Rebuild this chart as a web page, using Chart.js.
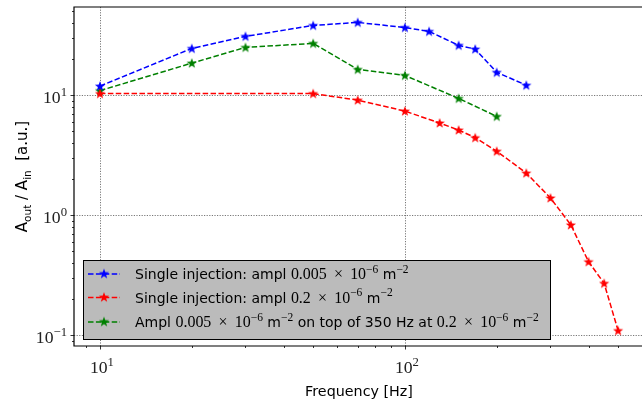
<!DOCTYPE html>
<html>
<head>
<meta charset="utf-8">
<script src="https://cdn.jsdelivr.net/npm/chart.js@4.4.1/dist/chart.umd.min.js"></script>
<style>
  html, body { margin: 0; padding: 0; background: #fff; overflow: hidden; }
  #wrap { width: 642px; height: 404px; overflow: hidden; }
</style>
</head>
<body>
<div id="wrap"><canvas id="respChart" width="650" height="404"></canvas></div>
<script>
// transfer amplitude vs injection frequency
const freqBlue = [10, 20, 30, 50, 70, 100, 120, 150, 170, 200, 250];
const ampBlue = [11.9, 24.5, 30.9, 38.1, 40.4, 36.6, 34.0, 26.0, 24.2, 15.5, 12.1];

const freqRed = [10, 50, 70, 100, 130, 150, 170, 200, 250, 300, 350, 400, 450, 500];
const ampRed = [10.3, 10.3, 9.09, 7.36, 5.86, 5.12, 4.42, 3.41, 2.24, 1.39, 0.829, 0.409, 0.270, 0.109];

const freqGreen = [10, 20, 30, 50, 70, 100, 150, 200];
const ampGreen = [10.9, 18.5, 25.0, 27.0, 16.4, 14.6, 9.39, 6.65];

const xRange = [8.22, 608];
const yRange = [0.0811, 54.3];
const xMajor = [10, 100];
const yMajor = [0.1, 1, 10];
const xTickExp = ['1', '2'];
const yTickExp = ['\u22121', '0', '1'];

const SANS = '"DejaVu Sans", sans-serif';
const SERIF = '"Liberation Serif", serif';
const TIMES = ' \u2009\u00d7\u2009 ';

// legend text, pieces: [text, font, superscript]
const legendLabels = [
    [['Single injection: ampl ', 's'], ['0.005' + TIMES + '10', 'm'], ['\u22126', 'm', 1], [' m', 's'], ['\u22122', 'm', 1]],
    [['Single injection: ampl ', 's'], ['0.2' + TIMES + '10', 'm'], ['\u22126', 'm', 1], [' m', 's'], ['\u22122', 'm', 1]],
    [['Ampl ', 's'], ['0.005' + TIMES + '10', 'm'], ['\u22126', 'm', 1], [' m', 's'], ['\u22122', 'm', 1],
     [' on top of 350 Hz at ', 's'], ['0.2' + TIMES + '10', 'm'], ['\u22126', 'm', 1], [' m', 's'], ['\u22122', 'm', 1]]
];
const colors = ['#0000ff', '#ff0000', '#008000'];

function starMarker(color) {
    const c = document.createElement('canvas');
    c.width = 12; c.height = 12;
    const g = c.getContext('2d');
    g.beginPath();
    for (let i = 0; i < 10; i++) {
        const r = i % 2 === 0 ? 5.4 : 2.2;
        const a = -Math.PI / 2 + i * Math.PI / 5;
        const px = 6 + r * Math.cos(a), py = 6.4 + r * Math.sin(a);
        i === 0 ? g.moveTo(px, py) : g.lineTo(px, py);
    }
    g.closePath();
    g.fillStyle = color;
    g.fill();
    return c;
}
const markers = colors.map(starMarker);

function pts(xs, ys) {
    return xs.map((x, i) => ({ x: x, y: ys[i] }));
}

// math bits are set a little larger than the sans text
function fontFor(kind, size) {
    return (kind === 'm' ? (size * 1.14) + 'px ' + SERIF : size + 'px ' + SANS);
}

// draws mixed sans / math text with superscripts, returns end x
function drawRich(ctx, parts, x, y, size, measureOnly) {
    let cx = x;
    parts.forEach(p => {
        const sup = p[2];
        const sz = sup ? size * 0.72 : size;
        ctx.font = fontFor(p[1], sz);
        if (!measureOnly) ctx.fillText(p[0], cx, sup ? y - size * 0.45 : y);
        cx += ctx.measureText(p[0]).width;
    });
    return cx;
}

const framePlugin = {
    id: 'frame',
    beforeDatasetsDraw(chart) {
        const { ctx, chartArea: a, scales } = chart;
        const xs = scales.x, ys = scales.y;
        ctx.save();
        // dotted grid at decades
        ctx.strokeStyle = '#555';
        ctx.lineWidth = 0.8;
        ctx.setLineDash([1.2, 1.4]);
        xMajor.forEach(v => {
            const px = Math.round(xs.getPixelForValue(v)) + 0.5;
            ctx.beginPath(); ctx.moveTo(px, a.top); ctx.lineTo(px, a.bottom); ctx.stroke();
        });
        yMajor.forEach(v => {
            const py = Math.round(ys.getPixelForValue(v)) + 0.5;
            ctx.beginPath(); ctx.moveTo(a.left, py); ctx.lineTo(a.right, py); ctx.stroke();
        });
        ctx.restore();
    },
    afterDraw(chart) {
        const { ctx, chartArea: a, scales } = chart;
        const xs = scales.x, ys = scales.y;
        ctx.save();
        ctx.setLineDash([]);

        // legend box
        const lx = 83, ly = 260, lw = 467, lh = 79;
        ctx.fillStyle = '#bbbbbb';
        ctx.fillRect(lx, ly, lw, lh);
        ctx.strokeStyle = '#000';
        ctx.lineWidth = 1;
        ctx.strokeRect(lx + 0.5, ly + 0.5, lw, lh);
        const rows = [274, 297.5, 322];
        legendLabels.forEach((parts, i) => {
            const ry = rows[i];
            ctx.strokeStyle = colors[i];
            ctx.lineWidth = 1.5;
            ctx.setLineDash([5.5, 2.4]);
            ctx.beginPath(); ctx.moveTo(88, ry); ctx.lineTo(120, ry); ctx.stroke();
            ctx.setLineDash([]);
            ctx.drawImage(markers[i], 104 - 6, ry - 6.4);
            ctx.fillStyle = '#000';
            ctx.textBaseline = 'alphabetic';
            ctx.textAlign = 'left';
            drawRich(ctx, parts, 135, ry + 5, 14);
        });

        // frame
        ctx.strokeStyle = '#000';
        ctx.lineWidth = 1.2;
        ctx.beginPath();
        ctx.moveTo(a.right, a.top); ctx.lineTo(a.left, a.top);
        ctx.lineTo(a.left, a.bottom); ctx.lineTo(a.right, a.bottom);
        ctx.stroke();

        // tick marks, decades long, the rest short
        ctx.lineWidth = 0.8;
        for (let d = 1; d <= 1000; d *= 10) {
            for (let k = 1; k < 10; k++) {
                const v = k * d;
                if (v >= xRange[0] && v <= xRange[1]) {
                    const px = Math.round(xs.getPixelForValue(v)) + 0.5;
                    ctx.beginPath(); ctx.moveTo(px, a.bottom); ctx.lineTo(px, a.bottom + (k === 1 ? 3.5 : 2)); ctx.stroke();
                }
            }
        }
        for (let d = 0.01; d <= 100; d *= 10) {
            for (let k = 1; k < 10; k++) {
                const v = k * d;
                if (v >= yRange[0] && v <= yRange[1]) {
                    const py = Math.round(ys.getPixelForValue(v)) + 0.5;
                    ctx.beginPath(); ctx.moveTo(a.left, py); ctx.lineTo(a.left - (k === 1 ? 3.5 : 2), py); ctx.stroke();
                }
            }
        }

        // tick labels
        ctx.fillStyle = '#222';
        ctx.textAlign = 'left';
        ctx.textBaseline = 'alphabetic';
        xMajor.forEach((v, i) => {
            const parts = [['10', 'm'], [xTickExp[i], 'm', 1]];
            const w = drawRich(ctx, parts, 0, 0, 15.5, true);
            drawRich(ctx, parts, xs.getPixelForValue(v) - w / 2 + 2, 373, 15.5);
        });
        yMajor.forEach((v, i) => {
            const parts = [['10', 'm'], [yTickExp[i], 'm', 1]];
            const w = drawRich(ctx, parts, 0, 0, 15.5, true);
            drawRich(ctx, parts, 67 - w, ys.getPixelForValue(v) + 8, 15.5);
        });

        // axis titles
        ctx.fillStyle = '#000';
        const xt = [['Frequency [Hz]', 's']];
        const xw = drawRich(ctx, xt, 0, 0, 14.3, true);
        drawRich(ctx, xt, (a.left + a.right) / 2 - xw / 2, 396, 14.3);

        ctx.translate(27, (a.top + a.bottom) / 2);
        ctx.rotate(-Math.PI / 2);
        const sub = (t) => {
            ctx.font = fontFor('s', 10.5);
            ctx.fillText(t, cx, 4);
            cx += ctx.measureText(t).width;
        };
        const main = (t) => {
            ctx.font = fontFor('s', 15);
            ctx.fillText(t, cx, 0);
            cx += ctx.measureText(t).width;
        };
        let cx = 0;
        // measure total first
        ctx.font = fontFor('s', 15);
        let total = ctx.measureText('A / A  [a.u.]').width;
        ctx.font = fontFor('s', 10.5);
        total += ctx.measureText('outin').width;
        cx = -total / 2;
        main('A'); sub('out'); main(' / A'); sub('in'); main('  [a.u.]');
        ctx.restore();
    }
};

new Chart(document.getElementById('respChart'), {
    type: 'line',
    data: {
        datasets: [
            { label: 'blue', data: pts(freqBlue, ampBlue), borderColor: colors[0] },
            { label: 'red', data: pts(freqRed, ampRed), borderColor: colors[1] },
            { label: 'green', data: pts(freqGreen, ampGreen), borderColor: colors[2] }
        ].map((ds, i) => Object.assign(ds, {
            borderWidth: 1.5,
            borderDash: [5.5, 2.4],
            pointStyle: markers[i],
            tension: 0,
            fill: false
        }))
    },
    options: {
        responsive: false,
        animation: false,
        devicePixelRatio: 1,
        layout: { padding: { left: 74, right: 6, top: 7, bottom: 58 } },
        plugins: { legend: { display: false }, tooltip: { enabled: false } },
        scales: {
            x: { type: 'logarithmic', min: xRange[0], max: xRange[1], display: false },
            y: { type: 'logarithmic', min: yRange[0], max: yRange[1], display: false }
        }
    },
    plugins: [framePlugin]
});
</script>
</body>
</html>
